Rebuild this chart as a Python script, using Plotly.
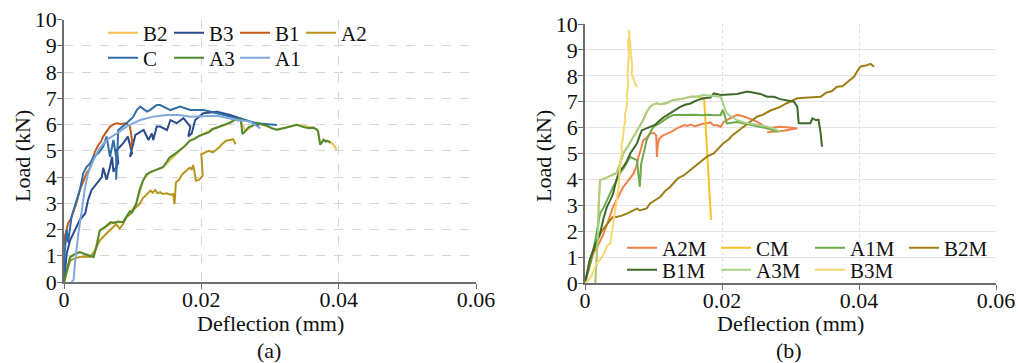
import plotly.graph_objects as go

W, H = 1018, 363

# ---------------- Panel (a) data ----------------
B2_x = [0, 0.0009, 0.0023, 0.0043, 0.0052, 0.0072, 0.0086, 0.0105, 0.0115, 0.0125, 0.0144, 0.0168, 0.0183,
        0.0197, 0.0216, 0.0236, 0.025, 0.0257, 0.0264, 0.0281, 0.031, 0.0339, 0.0363, 0.037, 0.0373, 0.0378,
        0.0386, 0.039, 0.0394, 0.0397]
B2_y = [0, 0.95, 1.14, 0.95, 1.96, 2.28, 2.28, 2.97, 3.86, 4.18, 4.37, 5.0, 5.38,
        5.57, 5.82, 6.0, 6.2, 6.18, 5.74, 6.06, 5.8, 5.99, 5.88, 5.74, 5.23, 5.42,
        5.36, 5.29, 5.18, 5.04]

B3_x = [0, 0.0004, 0.0009, 0.0016, 0.0023, 0.0031, 0.0035, 0.004, 0.0048, 0.0055, 0.0057, 0.0062, 0.0067,
        0.007, 0.0072, 0.0079, 0.0077, 0.0086, 0.0093, 0.0099, 0.0096, 0.0104, 0.0116, 0.0123, 0.0128,
        0.013, 0.0135, 0.014, 0.015, 0.0155, 0.0164, 0.0174, 0.0184, 0.0181, 0.0186, 0.0191, 0.0203,
        0.0223, 0.0242, 0.0257, 0.0271, 0.0284]
B3_y = [0, 1.1, 1.6, 1.98, 2.36, 2.62, 3.12, 3.5, 3.77, 4.0, 4.35, 3.9, 4.39,
        4.77, 4.2, 4.52, 5.03, 5.28, 5.54, 4.9, 4.77, 5.6, 5.79, 5.41, 5.66,
        5.41, 5.92, 5.92, 5.79, 6.17, 6.05, 6.24, 5.92, 5.54, 5.66, 6.17, 6.43,
        6.49, 6.36, 6.24, 6.11, 5.95]

B1_x = [0, 0.0001, 0.0004, 0.0006, 0.001, 0.0013, 0.0018, 0.0023, 0.0028, 0.0033, 0.0037, 0.004, 0.0043,
        0.0045, 0.005, 0.0054, 0.0057, 0.0062, 0.0067, 0.0072, 0.0077, 0.0083, 0.0089, 0.0093, 0.0096,
        0.0098, 0.0099, 0.0097]
B1_y = [1.4, 1.72, 2.0, 2.24, 2.4, 2.63, 3.0, 3.5, 3.8, 4.15, 4.3, 4.53, 4.75,
        4.96, 5.22, 5.35, 5.54, 5.75, 5.92, 6.0, 6.05, 6.02, 6.05, 6.0, 5.92,
        5.6, 5.41, 5.1]

A2_x = [0, 0.0005, 0.0009, 0.0016, 0.0023, 0.003, 0.0038, 0.0045, 0.0052, 0.006, 0.0067, 0.0072, 0.0076,
        0.0081, 0.0086, 0.0091, 0.0097, 0.0103, 0.011, 0.0115, 0.0119, 0.0122, 0.0126, 0.0129, 0.0133,
        0.0136, 0.014, 0.0144, 0.015, 0.0155, 0.0159, 0.0161, 0.0162, 0.0163, 0.0168, 0.0172, 0.0178,
        0.0183, 0.0186, 0.0188, 0.019, 0.0192, 0.0197, 0.0202, 0.02, 0.0203, 0.021, 0.0217, 0.0222,
        0.0226, 0.023, 0.0236, 0.024, 0.0246, 0.025]
A2_y = [0, 0.5, 0.82, 0.9, 0.95, 0.97, 0.95, 1.2, 1.58, 1.8, 1.96, 2.1, 2.2,
        2.03, 2.2, 2.47, 2.6, 2.8, 2.97, 3.2, 3.3, 3.35, 3.48, 3.4, 3.5,
        3.38, 3.42, 3.35, 3.38, 3.33, 3.35, 2.97, 3.4, 3.8, 3.9, 4.1, 4.24,
        4.35, 4.3, 4.45, 4.2, 3.86, 3.9, 4.05, 4.87, 4.9, 5.0, 4.94, 5.05,
        5.13, 5.25, 5.38, 5.4, 5.44, 5.25]

C_x = [0, 0.0001, 0.0004, 0.0006, 0.0011, 0.0018, 0.0023, 0.0028, 0.0033, 0.0038, 0.0043, 0.005, 0.0057,
       0.0062, 0.0067, 0.0072, 0.0076, 0.0076, 0.0079, 0.0091, 0.0101, 0.0106, 0.0111, 0.0121, 0.0125,
       0.0135, 0.014, 0.0155, 0.0169, 0.0184, 0.0203, 0.0223, 0.0242, 0.0261, 0.0281, 0.031]
C_y = [0, 1.15, 1.98, 1.5, 2.49, 3.12, 3.5, 4.14, 4.39, 4.52, 4.77, 4.9, 5.15,
       5.54, 4.77, 5.41, 4.75, 3.9, 5.79, 6.05, 6.3, 6.55, 6.68, 6.49, 6.55,
       6.74, 6.74, 6.55, 6.68, 6.55, 6.55, 6.43, 6.3, 6.17, 6.05, 5.98]

A3_x = [0, 0.0005, 0.0009, 0.0015, 0.0023, 0.0032, 0.0043, 0.0047, 0.0052, 0.006, 0.0068, 0.0072, 0.0079,
        0.0086, 0.0091, 0.0096, 0.0099, 0.0105, 0.011, 0.0115, 0.012, 0.0125, 0.0132, 0.0138, 0.0144,
        0.0149, 0.0154, 0.016, 0.0168, 0.0175, 0.0183, 0.019, 0.0197, 0.0205, 0.0211, 0.0216, 0.0224,
        0.023, 0.0236, 0.0243, 0.025, 0.0254, 0.0257, 0.026, 0.0264, 0.0269, 0.0274, 0.0281, 0.0289,
        0.0296, 0.0303, 0.031, 0.0318, 0.0328, 0.0339, 0.0349, 0.0357, 0.0363, 0.0368, 0.037, 0.0373,
        0.0375, 0.0378, 0.0381, 0.0384, 0.0388]
A3_y = [0, 0.6, 0.95, 1.05, 1.14, 1.05, 0.95, 1.3, 1.96, 2.1, 2.28, 2.25, 2.3,
        2.28, 2.5, 2.7, 2.65, 2.97, 3.5, 3.86, 4.1, 4.18, 4.25, 4.3, 4.37,
        4.55, 4.75, 4.85, 5.0, 5.15, 5.38, 5.45, 5.57, 5.65, 5.7, 5.82, 5.9,
        5.95, 6.0, 6.08, 6.2, 6.15, 6.25, 5.63, 5.75, 5.9, 5.95, 6.06, 6.0,
        5.95, 5.85, 5.8, 5.85, 5.91, 5.99, 5.9, 5.86, 5.88, 5.82, 5.74, 5.23,
        5.3, 5.42, 5.35, 5.38, 5.3]

A1_x = [0.0011, 0.0014, 0.0016, 0.0021, 0.0026, 0.003, 0.0035, 0.0043, 0.0052, 0.0062, 0.0077, 0.0091,
        0.0111, 0.013, 0.015, 0.0169, 0.0184, 0.0203, 0.0223, 0.0246, 0.0271, 0.0286]
A1_y = [0, 0.08, 0.72, 1.86, 2.74, 3.5, 4.14, 4.65, 5.1, 5.41, 5.66, 5.92,
        6.17, 6.3, 6.36, 6.36, 6.3, 6.32, 6.33, 6.2, 6.11, 5.85]

# ---------------- Panel (b) data ----------------
A2M_x = [0, 0.0006, 0.0012, 0.002, 0.0027, 0.0034, 0.0041, 0.0048, 0.0056, 0.0063, 0.0071, 0.0075, 0.0078,
         0.0082, 0.0085, 0.009, 0.0095, 0.01, 0.0104, 0.0105, 0.0106, 0.0108, 0.0114, 0.012, 0.0127,
         0.0134, 0.014, 0.0145, 0.0149, 0.0155, 0.016, 0.0166, 0.0172, 0.0178, 0.0183, 0.0188, 0.0193,
         0.0198, 0.0202, 0.0207, 0.0214, 0.0222, 0.023, 0.0237, 0.0246, 0.0256, 0.0266, 0.0275, 0.0285,
         0.0298, 0.031, 0.029, 0.0266]
A2M_y = [0, 0.6, 1.13, 1.5, 1.9, 2.4, 2.94, 3.3, 3.71, 3.95, 4.23, 4.5, 4.87,
         5.2, 5.52, 5.6, 5.77, 5.8, 5.7, 4.87, 5.3, 5.55, 5.7, 5.77, 5.85,
         5.97, 6.03, 6.1, 6.06, 6.12, 6.05, 6.1, 6.15, 6.17, 6.2, 6.08, 6.1,
         6.03, 6.2, 6.29, 6.38, 6.49, 6.45, 6.39, 6.29, 6.15, 5.97, 6.0, 6.03,
         6.0, 5.97, 5.88, 5.82]

CM_x = [0.0015, 0.0017, 0.0019, 0.002, 0.0022, 0.003, 0.0038, 0.0046, 0.0051, 0.0056, 0.0063, 0.0071,
        0.0078, 0.0085, 0.009, 0.0095, 0.01, 0.0105, 0.011, 0.012, 0.0129, 0.014, 0.0154, 0.0165,
        0.0174, 0.0177, 0.018, 0.0182, 0.0184]
CM_y = [0, 0.8, 1.9, 3.0, 3.97, 4.05, 4.15, 4.25, 4.6, 5.0, 5.3, 5.65,
        6.0, 6.29, 6.6, 6.8, 6.9, 6.94, 6.9, 6.95, 7.07, 7.1, 7.19, 7.2,
        7.1, 5.8, 4.4, 3.3, 2.43]

A1M_x = [0, 0.0005, 0.001, 0.0015, 0.0019, 0.0022, 0.0027, 0.0032, 0.0037, 0.0041, 0.0046, 0.0051, 0.0058,
         0.0066, 0.0071, 0.0076, 0.0078, 0.008, 0.0082, 0.0085, 0.009, 0.0095, 0.01, 0.0108, 0.0115,
         0.0122, 0.0129, 0.0139, 0.0149, 0.016, 0.017, 0.018, 0.019, 0.0198, 0.0201, 0.0203, 0.0207,
         0.0215, 0.0222, 0.0234, 0.0246, 0.0256, 0.0266, 0.0275, 0.0283]
A1M_y = [0, 0.5, 1.0, 1.65, 2.2, 2.68, 2.9, 3.2, 3.45, 3.71, 3.95, 4.23, 4.5,
         4.87, 4.8, 4.74, 4.2, 3.71, 4.6, 5.0, 5.52, 5.8, 6.03, 6.15, 6.29,
         6.4, 6.49, 6.5, 6.49, 6.5, 6.48, 6.5, 6.48, 6.49, 6.68, 6.55, 6.16,
         6.2, 6.22, 6.15, 6.09, 6.03, 5.97, 5.9, 5.84]

B2M_x = [0, 0.0007, 0.0015, 0.0022, 0.003, 0.0037, 0.0041, 0.0046, 0.0054, 0.0061, 0.0066, 0.0071, 0.0076,
         0.008, 0.009, 0.0095, 0.0102, 0.011, 0.0117, 0.0124, 0.0129, 0.0136, 0.0144, 0.0154, 0.0161,
         0.0166, 0.0173, 0.0178, 0.0188, 0.0195, 0.0202, 0.021, 0.0215, 0.0222, 0.0232, 0.024, 0.0251,
         0.026, 0.027, 0.0285, 0.0295, 0.031, 0.0322, 0.0335, 0.0344, 0.0352, 0.036, 0.0368, 0.0376,
         0.0385, 0.0393, 0.0398, 0.0402, 0.041, 0.0417, 0.0422]
B2M_y = [0, 0.88, 1.4, 1.9, 2.2, 2.42, 2.56, 2.55, 2.6, 2.68, 2.75, 2.8, 2.87,
         2.8, 2.88, 3.07, 3.2, 3.33, 3.55, 3.7, 3.85, 4.05, 4.15, 4.36, 4.5,
         4.6, 4.75, 4.88, 5.0, 5.2, 5.4, 5.55, 5.7, 5.84, 6.05, 6.2, 6.42,
         6.5, 6.65, 6.8, 6.95, 7.13, 7.15, 7.2, 7.19, 7.35, 7.4, 7.58, 7.6,
         7.8, 7.97, 8.2, 8.35, 8.4, 8.46, 8.35]

B1M_x = [0, 0.0007, 0.0015, 0.0022, 0.0027, 0.0032, 0.0037, 0.0041, 0.0045, 0.0049, 0.0053, 0.0056, 0.0061,
         0.0066, 0.0071, 0.0076, 0.008, 0.0083, 0.0088, 0.0095, 0.0102, 0.011, 0.0115, 0.0124, 0.0132,
         0.0139, 0.0146, 0.0154, 0.0163, 0.0173, 0.0183, 0.0188, 0.0198, 0.0212, 0.0222, 0.0237, 0.0246,
         0.0256, 0.0266, 0.0276, 0.0285, 0.0295, 0.0305, 0.031, 0.0312, 0.032, 0.0329, 0.0332, 0.0337,
         0.0341, 0.0344, 0.0346]
B1M_y = [0, 0.9, 1.5, 1.9, 2.5, 2.94, 3.2, 3.45, 3.9, 4.23, 4.4, 4.48, 4.7,
         5.0, 5.2, 5.39, 5.7, 5.9, 5.95, 6.03, 6.1, 6.29, 6.4, 6.55, 6.7,
         6.8, 6.88, 6.93, 7.05, 7.13, 7.16, 7.32, 7.26, 7.28, 7.3, 7.39, 7.35,
         7.3, 7.19, 7.19, 7.1, 7.06, 7.0, 6.8, 6.17, 6.17, 6.17, 6.36, 6.29,
         6.3, 5.8, 5.26]

A3M_x = [0.0015, 0.0017, 0.0019, 0.002, 0.0022, 0.003, 0.0038, 0.0046, 0.0051, 0.0056, 0.0063, 0.0071,
         0.0078, 0.0085, 0.009, 0.0095, 0.01, 0.0105, 0.011, 0.012, 0.0129, 0.014, 0.0154, 0.0165,
         0.0173, 0.0185, 0.0198, 0.0202, 0.0207, 0.0215, 0.0222, 0.0235, 0.025, 0.0266, 0.0276, 0.0285]
A3M_y = [0, 0.8, 1.9, 3.0, 3.97, 4.05, 4.15, 4.25, 4.6, 5.0, 5.3, 5.65,
         6.0, 6.29, 6.6, 6.8, 6.9, 6.94, 6.9, 6.95, 7.07, 7.1, 7.19, 7.2,
         7.26, 7.22, 7.19, 6.9, 6.55, 6.4, 6.29, 6.18, 6.1, 6.04, 5.95, 5.84]

B3M_x = [0, 0.0005, 0.001, 0.0014, 0.0017, 0.0022, 0.0027, 0.003, 0.0033, 0.0037, 0.0039, 0.0041, 0.0042,
         0.0044, 0.0045, 0.0046, 0.0048, 0.0049, 0.005, 0.0051, 0.0052, 0.0054, 0.0053, 0.0055, 0.0056,
         0.0057, 0.0059, 0.0058, 0.006, 0.0061, 0.0062, 0.0061, 0.0063, 0.0062, 0.0063, 0.0064, 0.0063,
         0.0065, 0.0064, 0.0066, 0.0067, 0.0069, 0.0068, 0.0071, 0.0073, 0.0076]
B3M_y = [0, 0.1, 0.3, 0.6, 0.76, 0.9, 1.1, 1.3, 1.45, 1.53, 1.9, 2.17, 2.4,
         2.82, 2.9, 3.2, 3.59, 3.71, 4.1, 4.36, 4.8, 5.0, 5.39, 5.5, 5.8,
         6.03, 6.29, 6.5, 6.68, 6.9, 7.06, 7.19, 7.71, 7.97, 8.6, 8.87, 9.38,
         9.6, 9.77, 9.12, 8.7, 8.35, 8.1, 7.84, 7.7, 7.58]

# ---------------- Figure ----------------
FONT = "Liberation Serif"
fig = go.Figure()

left_series = [
    ("B2", B2_x, B2_y, "#F2C14E", "legend"),
    ("B3", B3_x, B3_y, "#2B4C8C", "legend"),
    ("B1", B1_x, B1_y, "#C55A1A", "legend"),
    ("A2", A2_x, A2_y, "#B8961C", "legend"),
    ("C", C_x, C_y, "#2F6DA6", "legend2"),
    ("A3", A3_x, A3_y, "#4E8A33", "legend2"),
    ("A1", A1_x, A1_y, "#7FA8DC", "legend2"),
]
right_series = [
    ("A2M", A2M_x, A2M_y, "#F0814A", "legend3"),
    ("CM", CM_x, CM_y, "#F5C22A", "legend3"),
    ("A1M", A1M_x, A1M_y, "#6DAA4A", "legend3"),
    ("B2M", B2M_x, B2M_y, "#9E7D14", "legend3"),
    ("B1M", B1M_x, B1M_y, "#3E6A2A", "legend4"),
    ("A3M", A3M_x, A3M_y, "#A6D08A", "legend4"),
    ("B3M", B3M_x, B3M_y, "#F7D870", "legend4"),
]
for name, xs, ys, col, lg in left_series:
    fig.add_trace(go.Scatter(x=xs, y=ys, mode="lines", name=name, legend=lg,
                             line=dict(color=col, width=2), xaxis="x", yaxis="y"))
for name, xs, ys, col, lg in right_series:
    fig.add_trace(go.Scatter(x=xs, y=ys, mode="lines", name=name, legend=lg,
                             line=dict(color=col, width=2), xaxis="x2", yaxis="y2"))

def px_x(p):
    return p / W

def px_y(p):
    return 1 - p / H

axis_common = dict(showline=True, linecolor="#6E6E6E", linewidth=1.5, ticks="outside", ticklen=5,
                   tickcolor="#6E6E6E", tickfont=dict(family=FONT, size=22, color="#111111"),
                   zeroline=False, showgrid=True, automargin=False)

fig.update_layout(
    width=W, height=H, margin=dict(l=0, r=0, t=0, b=0, pad=0, autoexpand=False),
    paper_bgcolor="white", plot_bgcolor="white",
    font=dict(family=FONT),
    xaxis=dict(domain=[px_x(64), px_x(476)], range=[0, 0.06], dtick=0.02, anchor="y",
               gridcolor="#D6D6D6", griddash="dash", ticklabelstandoff=-8, **axis_common),
    yaxis=dict(domain=[px_y(282), px_y(19.5)], range=[0, 10], dtick=1, anchor="x",
               gridcolor="#D6D6D6", griddash="dash", ticklabelstandoff=-4, **axis_common),
    xaxis2=dict(domain=[px_x(585), px_x(996)], range=[0, 0.06], dtick=0.02, anchor="y2",
                gridcolor="#DCDCDC", griddash="dot", ticklabelstandoff=-8, **axis_common),
    yaxis2=dict(domain=[px_y(283), px_y(24)], range=[0, 10], dtick=1, anchor="x2",
                gridcolor="#E4E4E4", griddash="solid", ticklabelstandoff=-4, **axis_common),
    showlegend=True,
)

leg_common = dict(orientation="h", xanchor="left", yanchor="middle", bgcolor="rgba(0,0,0,0)",
                  font=dict(family=FONT, size=21, color="#111111"), itemwidth=30,
                  tracegroupgap=0)
fig.update_layout(
    legend=dict(x=px_x(103), y=px_y(33), entrywidth=21, **leg_common),
    legend2=dict(x=px_x(103), y=px_y(58), entrywidth=21, **leg_common),
    legend3=dict(x=px_x(622), y=px_y(248), entrywidth=49, **leg_common),
    legend4=dict(x=px_x(622), y=px_y(270), entrywidth=49, **leg_common),
)

ann_font = dict(family=FONT, size=22, color="#111111")
annotations = [
    dict(text="Deflection (mm)", x=px_x(270), y=px_y(323)),
    dict(text="(a)", x=px_x(269), y=px_y(350)),
    dict(text="Deflection (mm)", x=px_x(790), y=px_y(323)),
    dict(text="(b)", x=px_x(789), y=px_y(350)),
    dict(text="Load (kN)", x=px_x(22), y=px_y(156), textangle=-90),
    dict(text="Load (kN)", x=px_x(543), y=px_y(156), textangle=-90),
]
for a in annotations:
    fig.add_annotation(xref="paper", yref="paper", showarrow=False, xanchor="center", yanchor="middle",
                       font=ann_font, **a)

fig.write_html("out.html")
